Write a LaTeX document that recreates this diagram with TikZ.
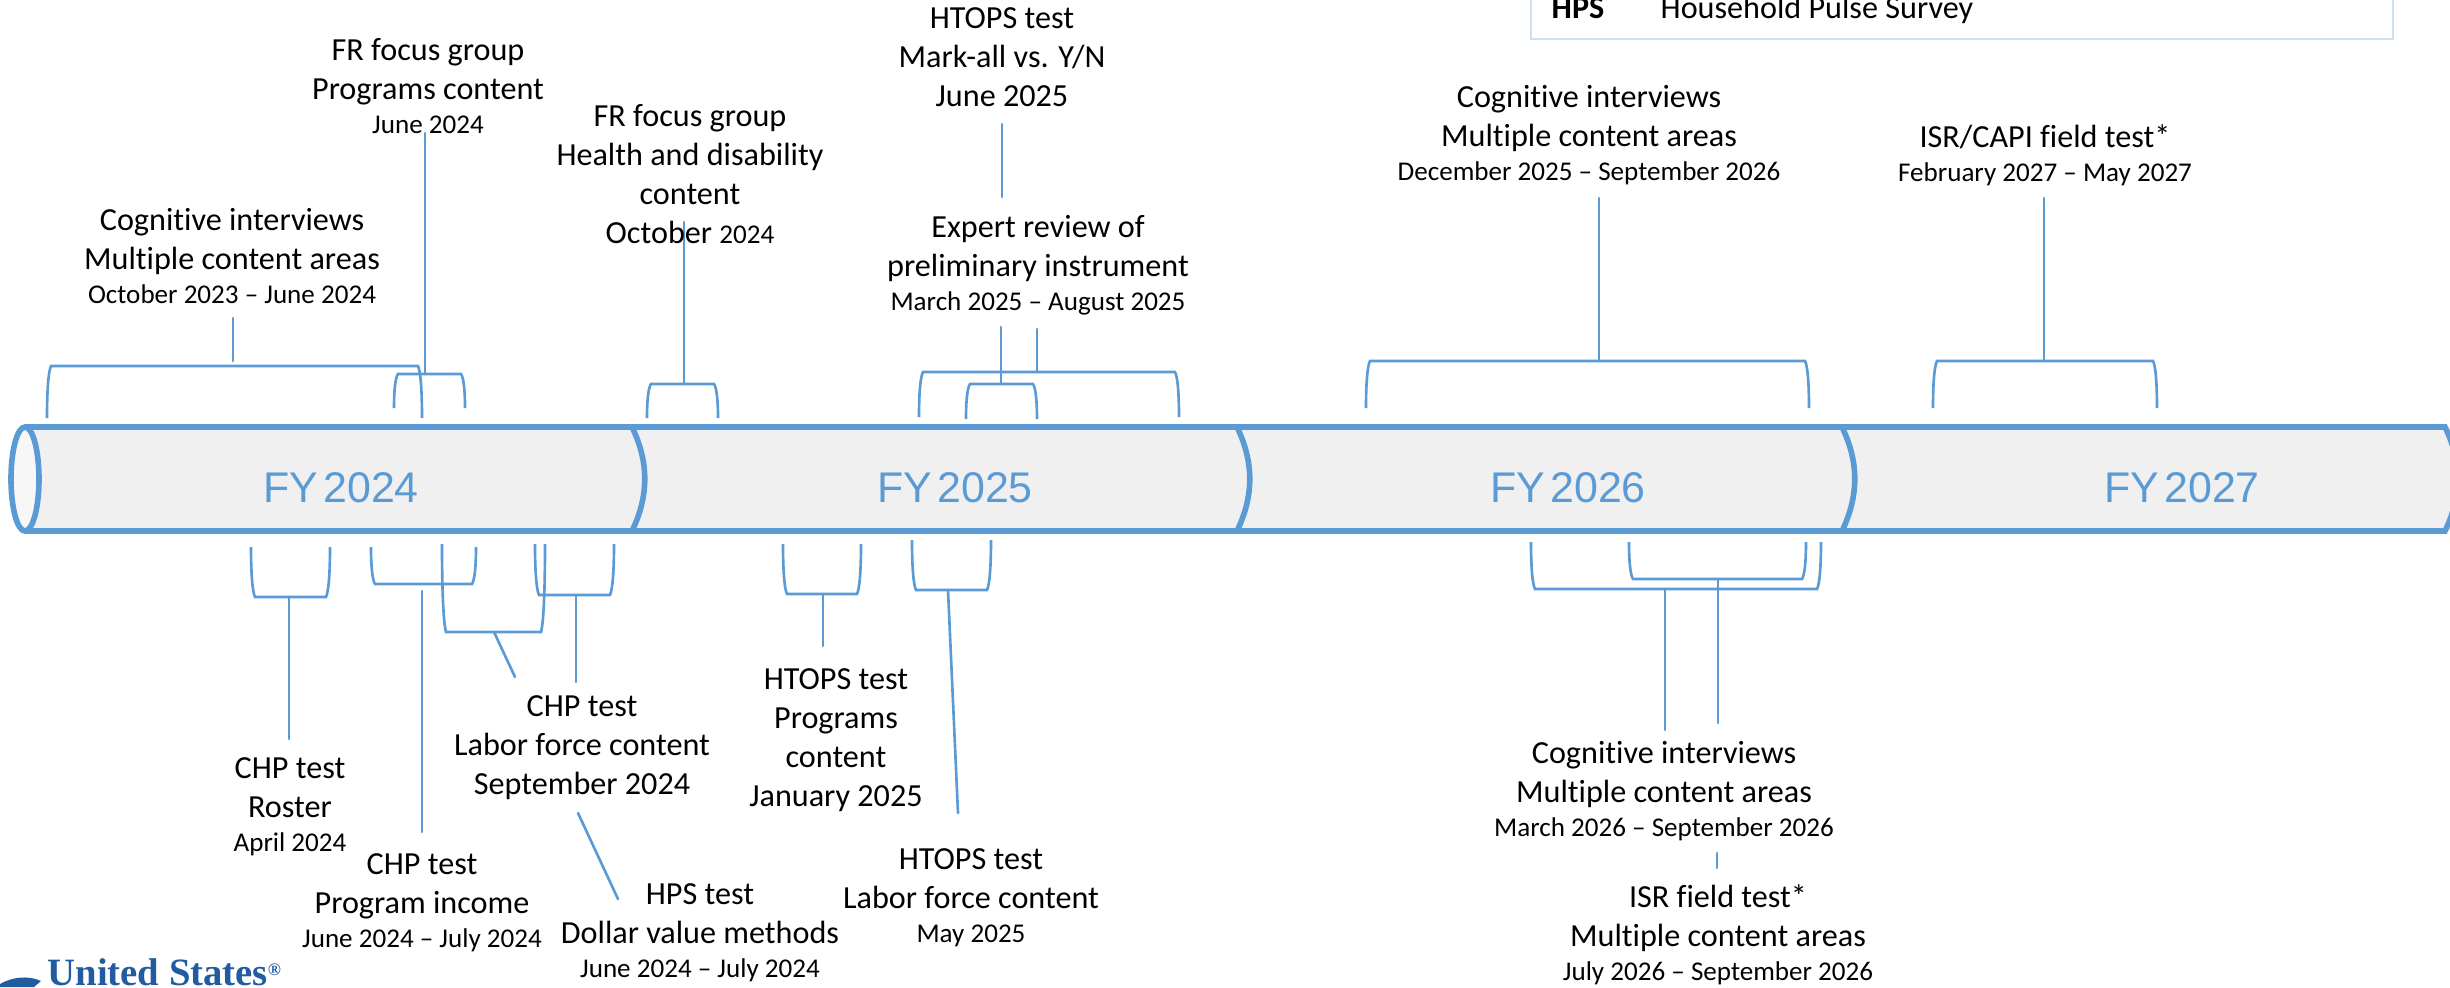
\documentclass[tikz,border=0pt]{standalone}
\usepackage{fontspec, tkz-euclide}
\setmainfont{Carlito}[Ligatures={TeX,NoCommon}]
\newfontfamily\fysans{Liberation Sans}[WordSpace=0.45]
\newfontfamily\logoserif{Liberation Serif}
\definecolor{railblue}{HTML}{5B9BD5}
\definecolor{railfill}{HTML}{F0F0F0}
\definecolor{capfill}{HTML}{F7F7F7}
\definecolor{keyline}{HTML}{CFE0F3}
\definecolor{logoblue}{HTML}{205C9F}
\newcommand{\smalldate}[1]{{\fontsize{7.7}{9}\selectfont #1}}
\newcommand{\dateline}[1]{\\[-1.4pt]\smalldate{#1}}
\newcommand{\bkt}[4]{\draw[bkt] (#1,#3) .. controls (#1,0.45*#3+0.55*#4) and (#1+1.5,0.1*#3+0.9*#4) .. (#1+4,#4) -- (#2-4,#4) .. controls (#2-1.5,0.1*#3+0.9*#4) and (#2,0.45*#3+0.55*#4) .. (#2,#3);}
\newcommand{\divider}[1]{\draw[rail] (#1,427) .. controls (#1+17,462) and (#1+17,496) .. (#1,531);}
\tikzset{
    rail/.style={draw=railblue, line width=1.6pt},
    bkt/.style={draw=railblue, line width=0.75pt},
    stem/.style={draw=railblue, line width=0.75pt},
    lbl/.style={align=center, anchor=base, inner sep=0pt, font=\fontsize{9.15}{11}\selectfont, text=black},
    fy/.style={anchor=center, inner sep=0pt, font=\fysans\fontsize{12.2}{14}\selectfont, text=railblue}
}
\begin{document}
\begin{tikzpicture}[x=0.01cm, y=-0.01cm]
    \useasboundingbox (0,0) rectangle (2450,987);
    \clip (0,0) rectangle (2450,987);
    \fill[railfill] (25,427) rectangle (2450,531);
    \draw[rail] (25,427) -- (2445,427) .. controls (2462,462) and (2462,496) .. (2445,531) -- (25,531);
    \draw[rail, fill=capfill] (25,479) ellipse (14 and 52);
    \divider{632}
    \divider{1237}
    \divider{1842}
    \node[fy] (fyA) at (341,488) {FY 2024};
    \node[fy] (fyB) at (955,488) {FY 2025};
    \node[fy] (fyC) at (1568,488) {FY 2026};
    \node[fy] (fyD) at (2182,488) {FY 2027};
    \bkt{47}{422}{418}{366}
    \bkt{394}{465}{408}{374}
    \bkt{647}{718}{418}{384}
    \bkt{919}{1179}{417}{372}
    \bkt{966}{1037}{419}{384}
    \bkt{1366}{1809}{408}{361}
    \bkt{1933}{2157}{408}{361}
    \bkt{251}{330}{547}{597}
    \bkt{371}{476}{547}{584}
    \bkt{442}{545}{544}{632}
    \bkt{535}{614}{544}{595}
    \bkt{783}{861}{544}{594}
    \bkt{912}{991}{540}{590}
    \bkt{1531}{1821}{542}{589}
    \bkt{1629}{1806}{542}{579}
    \tkzDefPoints{233/318/A1, 233/361/A2, 425/133/B1, 425/374/B2, 684/222/C1, 684/384/C2}
    \tkzDefPoints{1037/329/D1, 1037/372/D2, 1001/327/E1, 1001/384/E2, 1002/124/E3, 1002/197/E4}
    \tkzDefPoints{1599/198/F1, 1599/361/F2, 2044/198/G1, 2044/361/G2}
    \tkzDefPoints{289/597/H1, 289/739/H2, 422/591/I1, 422/832/I2}
    \tkzDefPoints{494/632/J1, 515/677/J2, 578/813/J3, 618/899/J4, 576/595/K1, 576/682/K2}
    \tkzDefPoints{823/594/L1, 823/646/L2, 948/590/M1, 958/813/M2}
    \tkzDefPoints{1665/589/N1, 1665/730/N2, 1718/579/O1, 1718/723/O2, 1717/853/O3, 1717/868/O4}
    \tkzDrawSegments[stem](A1,A2 B1,B2 C1,C2 D1,D2 E1,E2 E3,E4 F1,F2 G1,G2)
    \tkzDrawSegments[stem](H1,H2 I1,I2 J1,J2 J3,J4 K1,K2 L1,L2 M1,M2 N1,N2 O1,O2 O3,O4)
    \node[lbl] (cogA) at (232,303) {Cognitive interviews\\Multiple content areas\dateline{October 2023 -- June 2024}};
    \node[lbl] (frA) at (428,133) {FR focus group\\Programs content\dateline{June 2024}};
    \node[lbl] (frB) at (690,243) {FR focus group\\Health and disability\\content\\October \smalldate{2024}};
    \node[lbl] (htopsA) at (1002,106) {HTOPS test\\Mark-all vs. Y/N\\June 2025};
    \node[lbl] (expert) at (1038,310) {Expert review of\\preliminary instrument\dateline{March 2025 -- August 2025}};
    \node[lbl] (cogB) at (1589,180) {Cognitive interviews\\Multiple content areas\dateline{December 2025 -- September 2026}};
    \node[lbl] (isrA) at (2045,181) {ISR/CAPI field test*\dateline{February 2027 -- May 2027}};
    \node[lbl] (chpA) at (290,851) {CHP test\\Roster\dateline{April 2024}};
    \node[lbl] (chpB) at (422,947) {CHP test\\Program income\dateline{June 2024 -- July 2024}};
    \node[lbl] (chpC) at (582,794) {CHP test\\Labor force content\\September 2024};
    \node[lbl] (hps) at (700,977) {HPS test\\Dollar value methods\dateline{June 2024 -- July 2024}};
    \node[lbl] (htopsB) at (836,806) {HTOPS test\\Programs\\content\\January 2025};
    \node[lbl] (htopsC) at (971,942) {HTOPS test\\Labor force content\dateline{May 2025}};
    \node[lbl] (cogC) at (1664,836) {Cognitive interviews\\Multiple content areas\dateline{March 2026 -- September 2026}};
    \node[lbl] (isrB) at (1718,980) {ISR field test*\\Multiple content areas\dateline{July 2026 -- September 2026}};
    \draw[draw=keyline, line width=0.8pt] (1531,-20) rectangle (2393,39);
    \node[lbl, anchor=base west] (hpsKey) at (1551,18) {\textbf{HPS}};
    \node[lbl, anchor=base west] (hpsName) at (1660,18) {Household Pulse Survey};
    \fill[logoblue] (0,987) -- (0,984) .. controls (12,977) and (28,975) .. (41,981) -- (34,987) -- cycle;
    \node[anchor=base west, inner sep=0pt, font=\logoserif\bfseries\fontsize{11}{12}\selectfont, text=logoblue] (logo) at (47,985) {United States\raisebox{2.6pt}{\fontsize{5}{5}\selectfont ®}};
\end{tikzpicture}
\end{document}
